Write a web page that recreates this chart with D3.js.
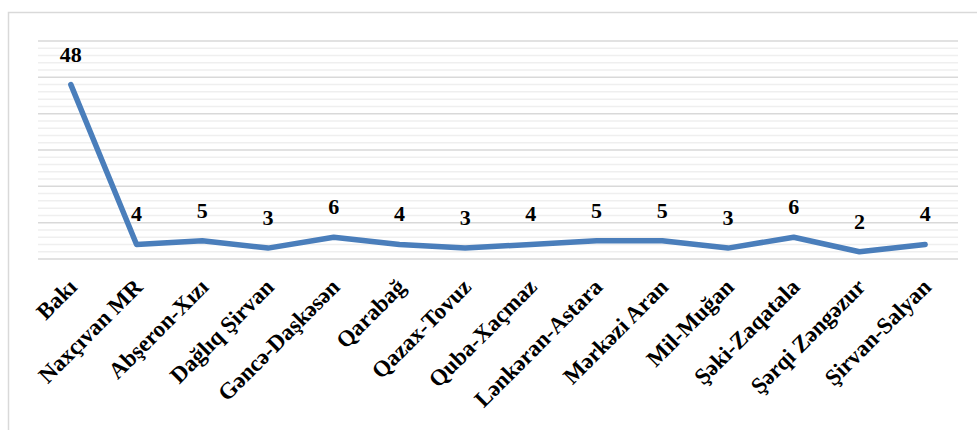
<!DOCTYPE html>
<html lang="en">
<head>
<script src="https://d3js.org/d3.v7.min.js"></script>
<style>
  body { margin: 0; background: #fff; }
  text { font-family: "Liberation Serif", "Times New Roman", serif; font-weight: bold; }
</style>
</head>
<body>
<script>
// regions and counts
var regions = ["Bakı", "Naxçıvan MR", "Abşeron-Xızı", "Dağlıq Şirvan", "Gəncə-Daşkəsən",
  "Qarabağ", "Qazax-Tovuz", "Quba-Xaçmaz", "Lənkəran-Astara", "Mərkəzi Aran",
  "Mil-Muğan", "Şəki-Zaqatala", "Şərqi Zəngəzur", "Şirvan-Salyan"];
var counts = [48, 4, 5, 3, 6, 4, 3, 4, 5, 5, 3, 6, 2, 4];
var yMax = 60;

var W = 977, H = 430;
var plotLeft = 38, plotRight = 958, plotTop = 41, plotBottom = 259;

var svg = d3.select("body").append("svg")
  .attr("width", W)
  .attr("height", H);

// outer chart border
svg.append("rect")
  .attr("x", 8.5).attr("y", 12.5)
  .attr("width", 1000).attr("height", 500)
  .attr("fill", "none")
  .attr("stroke", "#d9d9d9")
  .attr("stroke-width", 1.5);

var x = d3.scaleBand().domain(regions).range([plotLeft, plotRight]);
var y = d3.scaleLinear().domain([0, yMax]).range([plotBottom, plotTop]);

// minor gridlines
svg.append("g").selectAll("line")
  .data(d3.range(0, yMax + 1, 2).filter(function (d) { return d % 10 != 0; }))
  .enter().append("line")
  .attr("x1", plotLeft).attr("x2", plotRight)
  .attr("y1", function (d) { return y(d); })
  .attr("y2", function (d) { return y(d); })
  .attr("stroke", "#efefef")
  .attr("stroke-width", 1.5);

// major gridlines
svg.append("g").selectAll("line")
  .data(d3.range(0, yMax + 1, 10))
  .enter().append("line")
  .attr("x1", plotLeft).attr("x2", plotRight)
  .attr("y1", function (d) { return y(d); })
  .attr("y2", function (d) { return y(d); })
  .attr("stroke", "#d9d9d9")
  .attr("stroke-width", 1.5);

var cx = function (d, i) { return x(regions[i]) + x.bandwidth() / 2; };

var line = d3.line()
  .x(function (d, i) { return cx(d, i); })
  .y(function (d) { return y(d); });

svg.append("path")
  .datum(counts)
  .attr("d", line)
  .attr("fill", "none")
  .attr("stroke", "#4a7ebb")
  .attr("stroke-width", 5.5)
  .attr("stroke-linejoin", "round")
  .attr("stroke-linecap", "round");

// value labels
svg.append("g").selectAll("text")
  .data(counts)
  .enter().append("text")
  .attr("x", cx)
  .attr("y", function (d) { return y(d) - 23; })
  .attr("text-anchor", "middle")
  .style("font-size", "22px")
  .text(function (d) { return d; });

// category labels, rotated
svg.append("g").selectAll("text")
  .data(regions)
  .enter().append("text")
  .attr("transform", function (d) {
    return "translate(" + (x(d) + x.bandwidth() / 2 - 4) + "," + 277 + ") rotate(-45)";
  })
  .attr("dy", "0.7em")
  .attr("text-anchor", "end")
  .style("font-size", "23px")
  .text(function (d) { return d; });
</script>
</body>
</html>
